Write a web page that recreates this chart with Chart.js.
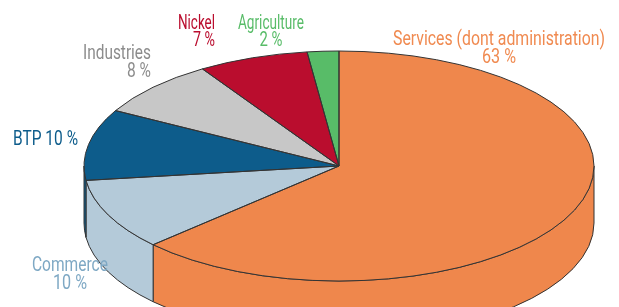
<!DOCTYPE html>
<html>
<head>
<meta charset="utf-8">
<script src="https://cdn.jsdelivr.net/npm/chart.js@4/dist/chart.umd.min.js"></script>
<style>
  html, body { margin: 0; padding: 0; background: #ffffff; }
  #wrap { width: 619px; height: 307px; position: relative; overflow: hidden; }
</style>
</head>
<body>
<div id="wrap"><canvas id="c" width="619" height="307"></canvas></div>
<script>
// ---- data ----
const categories = ["Services (dont administration)", "Commerce", "BTP", "Industries", "Nickel", "Agriculture"];
const values = [63, 10, 10, 8, 7, 2];
const valueLabels = ["63 %", "10 %", "10 %", "8 %", "7 %", "2 %"];

// ---- styles ----
const sliceColors = ["#EF874C", "#B4CAD9", "#0D5C8B", "#C7C7C7", "#BA0D2E", "#58BC68"];
const textColors  = ["#F08A50", "#7EA8C4", "#0D5C8B", "#8C8C8C", "#BA0D2E", "#58BC68"];
const edgeColor = "#333333";
const FONT = '20px Roboto, "Liberation Sans", sans-serif';

// ---- layout (pixels) ----
const pieGeom = { cx: 339, cy: 166, a: 255, b: 115, depth: 57 };
const labelLayout = [
  { align: "center", x: 499, ys: [40, 58],   widths: [212, 34], lines: 2 },
  { align: "center", x: 70,  ys: [266, 284], widths: [76, 34],  lines: 2 },
  { align: "left",   x: 13,  ys: [140],      widths: [65],      lines: 1 },
  { align: "right",  x: 151, ys: [54, 72],   widths: [68, 24],  lines: 2 },
  { align: "right",  x: 215, ys: [24, 41],   widths: [37, 22],  lines: 2 },
  { align: "center", x: 271, ys: [24, 41],   widths: [66, 23],  lines: 2 }
];

const pie3d = {
  id: "pie3d",
  beforeDatasetsDraw(chart) {
    const ctx = chart.ctx;
    const arcs = chart.getDatasetMeta(0).data;
    const g = pieGeom;
    const R = arcs[0].outerRadius, ox = arcs[0].x, oy = arcs[0].y;
    const sx = g.a / R, sy = g.b / R;

    ctx.save();
    ctx.lineWidth = 1;
    ctx.strokeStyle = edgeColor;
    ctx.lineJoin = "round";
    // side walls (front half only)
    arcs.forEach((arc, i) => {
      const t1 = Math.max(arc.startAngle, 0);
      const t2 = Math.min(arc.endAngle, Math.PI);
      if (t1 >= t2) return;
      ctx.beginPath();
      ctx.ellipse(g.cx, g.cy, g.a, g.b, 0, t1, t2, false);
      ctx.lineTo(g.cx + g.a * Math.cos(t2), g.cy + g.depth + g.b * Math.sin(t2));
      ctx.ellipse(g.cx, g.cy + g.depth, g.a, g.b, 0, t2, t1, true);
      ctx.closePath();
      ctx.fillStyle = sliceColors[i];
      ctx.fill();
      ctx.stroke();
    });

    // top faces, drawn by the library's arc elements under an elliptic transform
    arcs.forEach((arc) => {
      ctx.save();
      ctx.translate(g.cx, g.cy);
      ctx.scale(sx, sy);
      ctx.translate(-ox, -oy);
      arc.draw(ctx);
      ctx.restore();
    });

    // outlines of top faces
    ctx.lineWidth = 1;
    ctx.strokeStyle = edgeColor;
    arcs.forEach((arc) => {
      ctx.beginPath();
      ctx.moveTo(g.cx, g.cy);
      ctx.ellipse(g.cx, g.cy, g.a, g.b, 0, arc.startAngle, arc.endAngle, false);
      ctx.closePath();
      ctx.stroke();
    });
    ctx.restore();
    return false;
  },
  afterDraw(chart) {
    const ctx = chart.ctx;
    ctx.save();
    ctx.font = FONT;
    ctx.textBaseline = "middle";
    labelLayout.forEach((L, i) => {
      ctx.fillStyle = textColors[i];
      ctx.textAlign = L.align;
      const lines = L.lines === 2 ? [categories[i], valueLabels[i]] : [categories[i] + " " + valueLabels[i]];
      lines.forEach((t, k) => ctx.fillText(t, L.x, L.ys[k], L.widths[k]));
    });
    ctx.restore();
  }
};

new Chart(document.getElementById("c"), {
  type: "pie",
  data: {
    labels: categories,
    datasets: [{
      data: values,
      backgroundColor: sliceColors,
      borderWidth: 0
    }]
  },
  options: {
    responsive: false,
    animation: false,
    events: [],
    layout: { padding: 0 },
    plugins: { legend: { display: false }, tooltip: { enabled: false } }
  },
  plugins: [pie3d]
});
</script>
</body>
</html>
